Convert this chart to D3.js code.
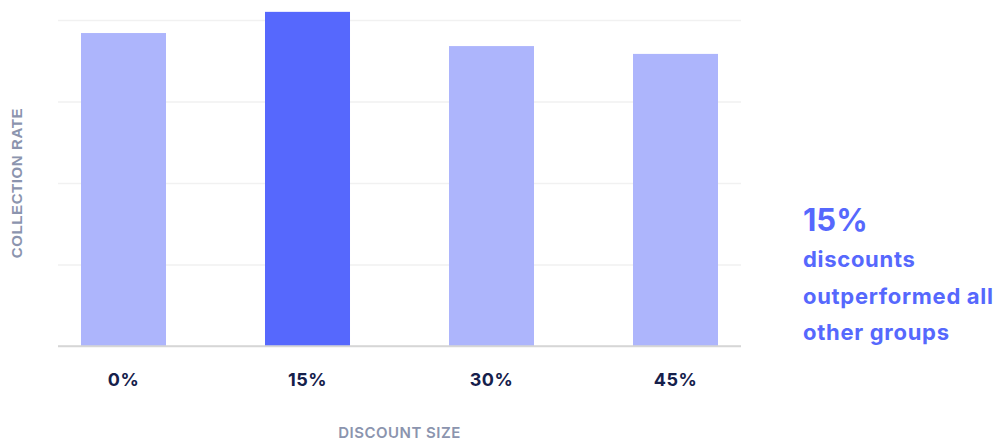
<!DOCTYPE html>
<html>
<head>
<meta charset="utf-8">
<script src="https://cdn.jsdelivr.net/npm/d3@7"></script>
<style>
  body { margin: 0; background: #fff; }
  svg { display: block; }
</style>
</head>
<body>
<div class="chart"></div>
<script>
// data (collection rate, arbitrary scale, grid every 25)
const DISCOUNTS = ["0%", "15%", "30%", "45%"];
const RATES = [96.0, 102.5, 92.0, 89.6];
const HIGHLIGHT = "15%";
const GRID_TICKS = [0, 25, 50, 75, 100];
const NOTE_HEAD = "15%";
const NOTE_LINES = ["discounts", "outperformed all", "other groups"];

const WIDTH = 1002;
const HEIGHT = 441;
const LEFT = 58, RIGHT = 741, TOP = 20, BOTTOM = 346;

const LIGHT = "#adb5fc";
const DARK = "#5668fd";
const NAVY = "#15204b";
const MUTED = "#8b94ae";

const data = DISCOUNTS.map((d, i) => ({ discount: d, rate: RATES[i] }));

const svg = d3.select(".chart")
  .append("svg")
  .attr("width", WIDTH)
  .attr("height", HEIGHT);

const xScale = d3.scaleBand()
  .domain(DISCOUNTS)
  .range([LEFT, RIGHT])
  .paddingInner(0.538)
  .paddingOuter(0.125);

const yScale = d3.scaleLinear()
  .domain([0, 100])
  .range([BOTTOM, TOP]);

// gridlines
const grid = svg.append("g")
  .attr("class", "grid")
  .attr("transform", `translate(${LEFT},0)`)
  .call(d3.axisLeft(yScale).tickValues(GRID_TICKS).tickSize(-(RIGHT - LEFT)).tickFormat(""));
grid.select(".domain").remove();
grid.selectAll(".tick line")
  .attr("stroke", d => d === 0 ? "#d6d6d6" : "#f1f1f1")
  .attr("stroke-width", 1.6);

// bars
svg.append("g")
  .attr("class", "bars")
  .selectAll("rect")
  .data(data)
  .join("rect")
  .attr("x", d => xScale(d.discount))
  .attr("y", d => yScale(d.rate))
  .attr("width", xScale.bandwidth())
  .attr("height", d => yScale(0) - yScale(d.rate))
  .attr("fill", d => d.discount === HIGHLIGHT ? DARK : LIGHT);

// baseline on top of bars
svg.append("line")
  .attr("x1", LEFT).attr("x2", RIGHT)
  .attr("y1", yScale(0)).attr("y2", yScale(0))
  .attr("stroke", "#d6d6d6")
  .attr("stroke-width", 1.6);

// x axis labels
const xAxis = svg.append("g")
  .attr("class", "x-axis")
  .attr("transform", `translate(0,${BOTTOM})`)
  .call(d3.axisBottom(xScale).tickSize(0).tickPadding(27));
xAxis.select(".domain").remove();
xAxis.selectAll("text")
  .attr("font-family", "Inter, 'DejaVu Sans', sans-serif")
  .attr("font-size", 18)
  .attr("font-weight", 700)
  .attr("letter-spacing", 0.5)
  .attr("fill", NAVY);

// axis titles
svg.append("text")
  .attr("x", (LEFT + RIGHT) / 2)
  .attr("y", 438)
  .attr("text-anchor", "middle")
  .attr("font-family", "Inter, sans-serif")
  .attr("font-size", 15)
  .attr("font-weight", 600)
  .attr("letter-spacing", 0.5)
  .attr("fill", MUTED)
  .text("DISCOUNT SIZE");

svg.append("text")
  .attr("transform", `translate(22,${(TOP + BOTTOM) / 2}) rotate(-90)`)
  .attr("text-anchor", "middle")
  .attr("font-family", "'Liberation Sans', Arial, sans-serif")
  .attr("font-size", 15)
  .attr("font-weight", 700)
  .attr("letter-spacing", 0.6)
  .attr("fill", MUTED)
  .text("COLLECTION RATE");

// callout
const note = svg.append("g")
  .attr("class", "note")
  .attr("font-family", "Inter, sans-serif")
  .attr("font-weight", 700)
  .attr("fill", DARK);
note.append("text")
  .attr("x", 803)
  .attr("y", 231)
  .attr("font-size", 31)
  .text(NOTE_HEAD);
note.selectAll(".line")
  .data(NOTE_LINES)
  .join("text")
  .attr("class", "line")
  .attr("x", 803)
  .attr("y", (d, i) => 267 + i * 36.5)
  .attr("font-size", 22)
  .attr("letter-spacing", 0.7)
  .text(d => d);
</script>
</body>
</html>
